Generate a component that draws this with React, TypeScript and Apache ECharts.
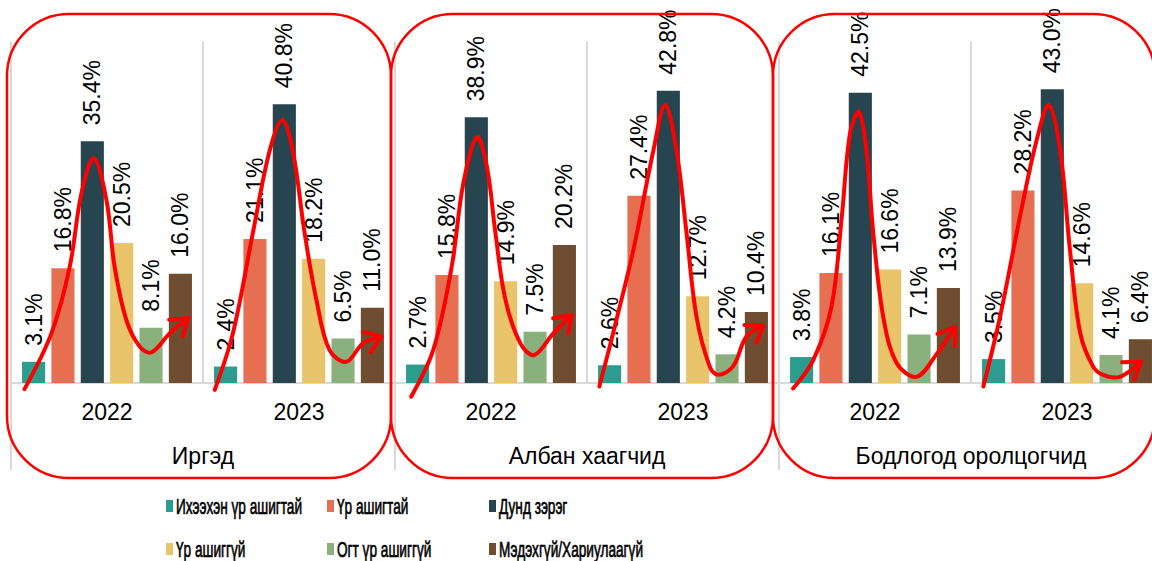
import React, { useEffect, useRef } from "react";
import * as echarts from "echarts";

// ---------- data ----------
const groups = ["Иргэд", "Албан хаагчид", "Бодлогод оролцогчид"];
const years = ["2022", "2023", "2022", "2023", "2022", "2023"];
const seriesNames = [
  "Ихээхэн үр ашигтай",
  "Үр ашигтай",
  "Дунд зэрэг",
  "Үр ашиггүй",
  "Огт үр ашиггүй",
  "Мэдэхгүй/Хариулаагүй",
];
const ikheekhenUrAshigtai = [3.1, 2.4, 2.7, 2.6, 3.8, 3.5];
const urAshigtai = [16.8, 21.1, 15.8, 27.4, 16.1, 28.2];
const dundZereg = [35.4, 40.8, 38.9, 42.8, 42.5, 43.0];
const urAshiggui = [20.5, 18.2, 14.9, 12.7, 16.6, 14.6];
const ogtUrAshiggui = [8.1, 6.5, 7.5, 4.2, 7.1, 4.1];
const medekhgui = [16.0, 11.0, 20.2, 10.4, 13.9, 6.4];
const seriesValues = [ikheekhenUrAshigtai, urAshigtai, dundZereg, urAshiggui, ogtUrAshiggui, medekhgui];
const colors = ["#2A9D8F", "#E76F51", "#27454F", "#E9C46A", "#8AB17D", "#6E4D30"];

// hand-drawn red trend arrows: [bar position (0 = first bar .. 5 = last bar), value %]
const trendCurves: number[][][] = [
  [[-0.31, -0.9], [0.61, 7.3], [1.23, 17], [1.63, 27.8], [2.05, 32.9], [2.48, 26.8], [2.76, 17], [3.16, 9.2], [3.62, 5.3], [4.02, 4.5], [4.64, 7.3], [5.26, 9.5]],
  [[-0.37, -1.0], [0.25, 7.3], [0.93, 22], [1.5, 34], [1.93, 38.5], [2.29, 34], [2.69, 22], [3.09, 12.2], [3.54, 4.8], [4.11, 3.1], [4.68, 5.8], [5.31, 6.8]],
  [[-0.22, -2.0], [0.53, 4.8], [1.16, 17], [1.56, 29.3], [2.02, 36], [2.36, 31.7], [2.65, 22], [2.99, 12.2], [3.5, 5.8], [3.97, 4.1], [4.63, 7.3], [5.25, 10]],
  [[-0.35, -0.5], [0.12, 7.3], [0.81, 19.5], [1.49, 34], [1.89, 40.7], [2.28, 34], [2.62, 22], [2.96, 9.7], [3.41, 2.4], [3.69, 1.2], [4.2, 2.4], [4.66, 6.8], [5.24, 8.5]],
  [[-0.29, -0.8], [0.4, 3.4], [1.02, 11.2], [1.37, 24.4], [1.65, 36.6], [1.95, 39.7], [2.21, 34], [2.44, 22], [2.78, 9.7], [3.24, 2.9], [3.92, 0.9], [4.61, 4.3], [5.23, 8.2]],
  [[-0.35, -0.5], [0.22, 9.7], [0.9, 24.4], [1.47, 35.6], [1.88, 40.7], [2.27, 34], [2.6, 19.5], [2.95, 7.3], [3.39, 2.4], [3.73, 1.2], [4.3, 0.9], [5.02, 3.1]],
];

const BAR_GAP = 0.27;
const CAT_GAP = 0.115;
const FONT = "'Liberation Sans', Arial, sans-serif";

export default function App() {
  const ref = useRef<HTMLDivElement>(null);

  useEffect(() => {
    if (!ref.current) return;
    const chart = echarts.init(ref.current, null, { renderer: "svg" });

    const barSeries = seriesNames.map((name, i) => ({
      name,
      type: "bar",
      xAxisIndex: 0,
      data: seriesValues[i],
      barGap: `${BAR_GAP * 100}%`,
      barCategoryGap: `${CAT_GAP * 100}%`,
      itemStyle: { color: colors[i] },
      label: {
        show: true,
        position: "top",
        distance: 16,
        rotate: 90,
        align: "left",
        verticalAlign: "middle",
        fontSize: 23,
        fontFamily: FONT,
        color: "#000",
        formatter: (p: any) => `${Number(p.value).toFixed(1)}%`,
      },
      z: 2,
    }));

    const curveSeries = {
      type: "custom",
      xAxisIndex: 0,
      z: 5,
      silent: true,
      data: trendCurves.map((_, k) => [k, 0]),
      encode: { x: 0, y: 1 },
      renderItem: (params: any, api: any) => {
        const k = params.dataIndex;
        const pts = trendCurves[k];
        const band = api.size([1, 0])[0];
        const cx = api.coord([k, 0])[0];
        const used = band * (1 - CAT_GAP);
        const bw = used / (6 + 5 * BAR_GAP);
        const pitch = bw * (1 + BAR_GAP);
        const x0 = cx - used / 2 + bw / 2;
        const px = pts.map(([p, v]) => [x0 + p * pitch, api.coord([k, v])[1]]);
        const e = px[px.length - 1];
        const prev = px[px.length - 2];
        const ang = Math.atan2(e[1] - prev[1], e[0] - prev[0]) + Math.PI;
        const L = 19;
        const spread = 0.6;
        const a1 = [e[0] + L * Math.cos(ang + spread), e[1] + L * Math.sin(ang + spread)];
        const a2 = [e[0] + L * Math.cos(ang - spread), e[1] + L * Math.sin(ang - spread)];
        const style = { stroke: "#FF0000", lineWidth: 4, fill: null, lineCap: "round", lineJoin: "round" };
        return {
          type: "group",
          children: [
            { type: "polyline", shape: { points: px, smooth: 0.35 }, style },
            { type: "polyline", shape: { points: [a1, e, a2] }, style },
          ],
        };
      },
    };

    const rects = [
      [7, 391],
      [391, 773],
      [773, 1155],
    ].map(([x1, x2]) => ({
      type: "rect",
      z: 10,
      silent: true,
      shape: { x: x1, y: 14, width: x2 - x1, height: 464, r: 62 },
      style: { fill: "none", stroke: "#FF0000", lineWidth: 2.5 },
    }));

    const legendCols = [166, 327, 489];
    const legendRows = [506, 549];
    const legendItems = seriesNames.map((name, i) => {
      const x = legendCols[i % 3];
      const y = legendRows[Math.floor(i / 3)];
      return {
        type: "group",
        children: [
          { type: "rect", shape: { x, y: y - 6, width: 7, height: 12 }, style: { fill: colors[i] } },
          {
            type: "text",
            x: x + 10,
            y,
            scaleX: 0.62,
            style: {
              text: name,
              fontSize: 22,
              lineHeight: 20,
              fontFamily: FONT,
              fill: "#000",
              stroke: "#000",
              lineWidth: 0.7,
              verticalAlign: "middle",
              align: "left",
            },
          },
        ],
      };
    });

    chart.setOption({
      animation: false,
      grid: { left: 11, right: 1, top: 41.5, bottom: 178, containLabel: false },
      xAxis: [
        {
          type: "category",
          data: years,
          position: "bottom",
          axisLine: { show: true, lineStyle: { color: "#D9D9D9", width: 2 } },
          axisTick: { show: false },
          axisLabel: { interval: 0, margin: 17, fontSize: 23, fontFamily: FONT, color: "#000" },
          splitLine: { show: true, interval: 0, lineStyle: { color: "#D9D9D9", width: 2 } },
        },
        {
          type: "category",
          data: groups,
          position: "bottom",
          axisLine: { show: false },
          axisTick: { show: true, length: 87, lineStyle: { color: "#D9D9D9", width: 2 } },
          axisLabel: { interval: 0, margin: 61, fontSize: 23, fontFamily: FONT, color: "#000" },
          splitLine: { show: false },
        },
      ],
      yAxis: { type: "value", min: 0, max: 50, show: false, splitLine: { show: false } },
      series: [...barSeries, curveSeries],
      graphic: [...rects, ...legendItems],
    });

    return () => chart.dispose();
  }, []);

  return (
    <div
      ref={ref}
      style={{ position: "fixed", left: 0, top: 0, width: 1164, height: 561, background: "#fff" }}
    />
  );
}
